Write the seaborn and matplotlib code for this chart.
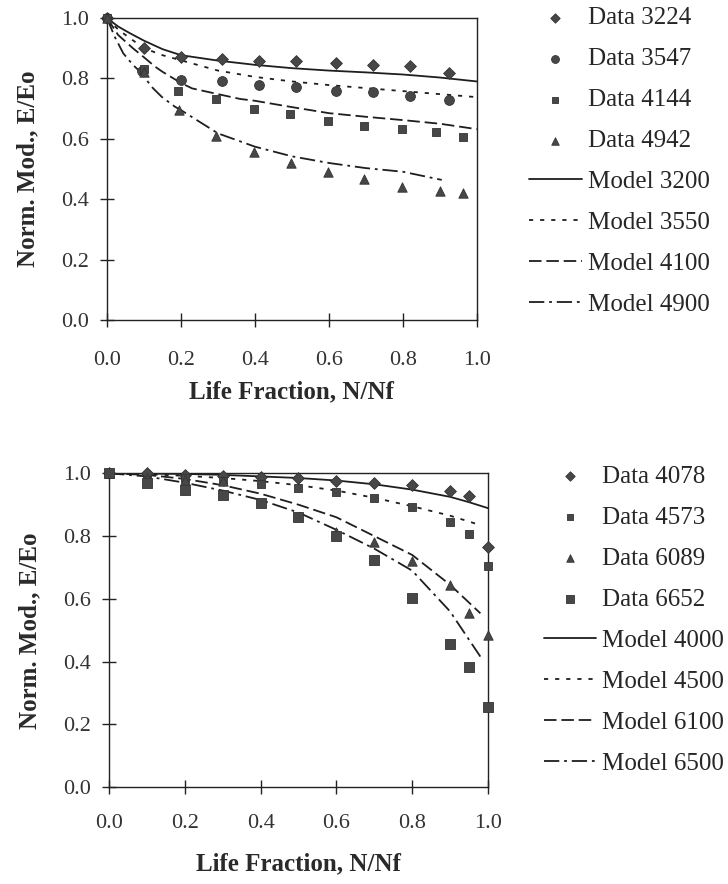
import matplotlib
matplotlib.use("Agg")
import matplotlib.pyplot as plt
import seaborn as sns

# --- data ---
# top panel: measured points
top_x_3224 = [0.0, 0.1, 0.2, 0.31, 0.41, 0.51, 0.62, 0.72, 0.82, 0.925]
top_y_3224 = [1.0, 0.90, 0.872, 0.863, 0.859, 0.857, 0.850, 0.845, 0.841, 0.819]
top_x_3547 = [0.0, 0.094, 0.2, 0.31, 0.41, 0.51, 0.62, 0.72, 0.82, 0.925]
top_y_3547 = [1.0, 0.824, 0.795, 0.79, 0.778, 0.77, 0.76, 0.755, 0.743, 0.73]
top_x_4144 = [0.0, 0.1, 0.193, 0.296, 0.397, 0.496, 0.597, 0.696, 0.798, 0.89, 0.963]
top_y_4144 = [1.0, 0.83, 0.758, 0.732, 0.70, 0.681, 0.66, 0.642, 0.632, 0.623, 0.607]
top_x_4942 = [0.0, 0.1, 0.195, 0.296, 0.397, 0.497, 0.597, 0.696, 0.798, 0.90, 0.963]
top_y_4942 = [1.0, 0.82, 0.695, 0.609, 0.557, 0.519, 0.489, 0.467, 0.439, 0.428, 0.419]

# top panel: model curves
m3200_x = [0.0, 0.03, 0.06, 0.1, 0.15, 0.2, 0.3, 0.4, 0.5, 0.6, 0.7, 0.8, 0.9, 1.0]
m3200_y = [1.0, 0.972, 0.951, 0.925, 0.897, 0.877, 0.859, 0.845, 0.834, 0.826, 0.82, 0.813, 0.803, 0.79]
m3550_x = [0.0, 0.03, 0.06, 0.1, 0.15, 0.2, 0.3, 0.4, 0.5, 0.6, 0.7, 0.8, 0.9, 1.0]
m3550_y = [1.0, 0.962, 0.935, 0.90, 0.877, 0.86, 0.826, 0.805, 0.79, 0.778, 0.768, 0.758, 0.748, 0.738]
m4100_x = [0.0, 0.03, 0.07, 0.1, 0.13, 0.15, 0.2, 0.23, 0.3, 0.36, 0.4, 0.5, 0.6, 0.7, 0.8, 0.9, 1.0]
m4100_y = [1.0, 0.944, 0.90, 0.87, 0.839, 0.822, 0.785, 0.767, 0.748, 0.732, 0.726, 0.705, 0.685, 0.673, 0.662, 0.65, 0.632]
m4900_x = [0.0, 0.02, 0.044, 0.07, 0.094, 0.12, 0.148, 0.184, 0.2, 0.3, 0.4, 0.5, 0.6, 0.7, 0.8, 0.905]
m4900_y = [1.0, 0.94, 0.883, 0.845, 0.817, 0.773, 0.739, 0.706, 0.695, 0.618, 0.574, 0.542, 0.52, 0.503, 0.491, 0.464]

# bottom panel: measured points
bot_x_4078 = [0.0, 0.1, 0.2, 0.3, 0.4, 0.5, 0.6, 0.7, 0.8, 0.9, 0.95, 1.0]
bot_y_4078 = [1.0, 1.0, 0.995, 0.99, 0.988, 0.984, 0.976, 0.97, 0.963, 0.944, 0.928, 0.764]
bot_x_4573 = [0.0, 0.1, 0.2, 0.3, 0.4, 0.5, 0.6, 0.7, 0.8, 0.9, 0.95, 1.0]
bot_y_4573 = [1.0, 0.98, 0.985, 0.975, 0.965, 0.952, 0.941, 0.92, 0.894, 0.846, 0.807, 0.705]
bot_x_6089 = [0.0, 0.1, 0.2, 0.3, 0.6, 0.7, 0.8, 0.9, 0.95, 1.0]
bot_y_6089 = [1.0, 0.985, 0.98, 0.975, 0.814, 0.782, 0.72, 0.644, 0.554, 0.485]
bot_x_6652 = [0.0, 0.1, 0.2, 0.3, 0.4, 0.5, 0.6, 0.7, 0.8, 0.9, 0.95, 1.0]
bot_y_6652 = [1.0, 0.97, 0.947, 0.93, 0.904, 0.862, 0.80, 0.724, 0.604, 0.455, 0.384, 0.257]

# bottom panel: model curves
m4000_x = [0.0, 0.2, 0.3, 0.4, 0.5, 0.6, 0.7, 0.8, 0.9, 0.95, 1.0]
m4000_y = [1.0, 0.998, 0.995, 0.99, 0.985, 0.977, 0.965, 0.948, 0.925, 0.908, 0.889]
m4500_x = [0.0, 0.1, 0.2, 0.3, 0.4, 0.5, 0.6, 0.7, 0.8, 0.9, 0.98]
m4500_y = [1.0, 0.997, 0.992, 0.985, 0.975, 0.962, 0.945, 0.922, 0.895, 0.865, 0.835]
m6100_x = [0.0, 0.1, 0.2, 0.3, 0.4, 0.5, 0.6, 0.7, 0.8, 0.9, 0.98]
m6100_y = [1.0, 0.995, 0.982, 0.962, 0.935, 0.90, 0.86, 0.80, 0.74, 0.645, 0.554]
m6500_x = [0.0, 0.1, 0.2, 0.3, 0.4, 0.5, 0.6, 0.7, 0.8, 0.9, 0.98]
m6500_y = [1.0, 0.99, 0.97, 0.945, 0.915, 0.875, 0.82, 0.76, 0.69, 0.56, 0.416]

ticks = [0.0, 0.2, 0.4, 0.6, 0.8, 1.0]
tick_labels = ["0.0", "0.2", "0.4", "0.6", "0.8", "1.0"]

sns.set_theme(style="white")
plt.rcParams["font.family"] = ["Liberation Serif", "DejaVu Serif"]
plt.rcParams["lines.scale_dashes"] = False

MARK = "#474747"
LINE = "#1e1e1e"
DOTTED = (0, (3, 5))
DASHED = (0, (9, 3.5))
DASHDOT = (0, (11, 3.5, 2, 3.5))

fig = plt.figure(figsize=(7.28, 8.84), dpi=100)
ax1 = fig.add_axes([0.147, 0.638, 0.508, 0.3416])
ax2 = fig.add_axes([0.1497, 0.1094, 0.5206, 0.3552])


def add_points(ax, x, y, marker, label, size):
    sns.scatterplot(x=x, y=y, ax=ax, marker=marker, s=size, color=MARK,
                    edgecolor="#333333", linewidth=0.6, label=label,
                    clip_on=False, zorder=3)


def add_model(ax, x, y, style, label):
    sns.lineplot(x=x, y=y, ax=ax, color=LINE, linewidth=1.3, linestyle=style,
                 label=label, sort=False, errorbar=None)


# top panel
add_points(ax1, top_x_3224, top_y_3224, "D", "Data 3224", 36)
add_points(ax1, top_x_3547, top_y_3547, "o", "Data 3547", 50)
add_points(ax1, top_x_4144, top_y_4144, "s", "Data 4144", 36)
add_points(ax1, top_x_4942, top_y_4942, "^", "Data 4942", 46)
add_model(ax1, m3200_x, m3200_y, "-", "Model 3200")
add_model(ax1, m3550_x, m3550_y, DOTTED, "Model 3550")
add_model(ax1, m4100_x, m4100_y, DASHED, "Model 4100")
add_model(ax1, m4900_x, m4900_y, DASHDOT, "Model 4900")

# bottom panel
add_points(ax2, bot_x_4078, bot_y_4078, "D", "Data 4078", 36)
add_points(ax2, bot_x_4573, bot_y_4573, "s", "Data 4573", 36)
add_points(ax2, bot_x_6089, bot_y_6089, "^", "Data 6089", 46)
add_points(ax2, bot_x_6652, bot_y_6652, "s", "Data 6652", 44)
add_model(ax2, m4000_x, m4000_y, "-", "Model 4000")
add_model(ax2, m4500_x, m4500_y, DOTTED, "Model 4500")
add_model(ax2, m6100_x, m6100_y, DASHED, "Model 6100")
add_model(ax2, m6500_x, m6500_y, DASHDOT, "Model 6500")

legend_anchor = {ax1: (0.713, 0.8175), ax2: (0.733, 0.2985)}
tick_pad = {ax1: 17, ax2: 14}
xlabel_pad = {ax1: 8, ax2: 14}

for ax in (ax1, ax2):
    ax.set_xlim(0, 1)
    ax.set_ylim(0, 1)
    ax.set_xticks(ticks)
    ax.set_yticks(ticks)
    ax.set_xticklabels(tick_labels)
    ax.set_yticklabels(tick_labels)
    ax.tick_params(axis="both", direction="inout", length=10, width=1.0,
                   color="#222222", labelsize=16, labelcolor="#333333",
                   bottom=True, left=True, top=False, right=False)
    ax.tick_params(axis="x", pad=tick_pad[ax])
    ax.tick_params(axis="y", pad=8)
    for sp in ax.spines.values():
        sp.set_visible(True)
        sp.set_color("#222222")
        sp.set_linewidth(1.0)
    ax.set_xlabel("Life Fraction, N/Nf", fontsize=18, fontweight="bold",
                  color="#2a2a2a", labelpad=xlabel_pad[ax])
    ax.set_ylabel("Norm. Mod., E/Eo", fontsize=18, fontweight="bold",
                  color="#2a2a2a", labelpad=16)
    ax.grid(False)
    handles, labels = ax.get_legend_handles_labels()
    ax.legend(handles, labels, loc="center left",
              bbox_to_anchor=legend_anchor[ax], bbox_transform=fig.transFigure,
              frameon=False, fontsize=18, handlelength=2.1, handletextpad=0.25,
              labelspacing=0.74, borderaxespad=0, markerscale=0.8)

fig.savefig("out.png", dpi=100, facecolor="white")
